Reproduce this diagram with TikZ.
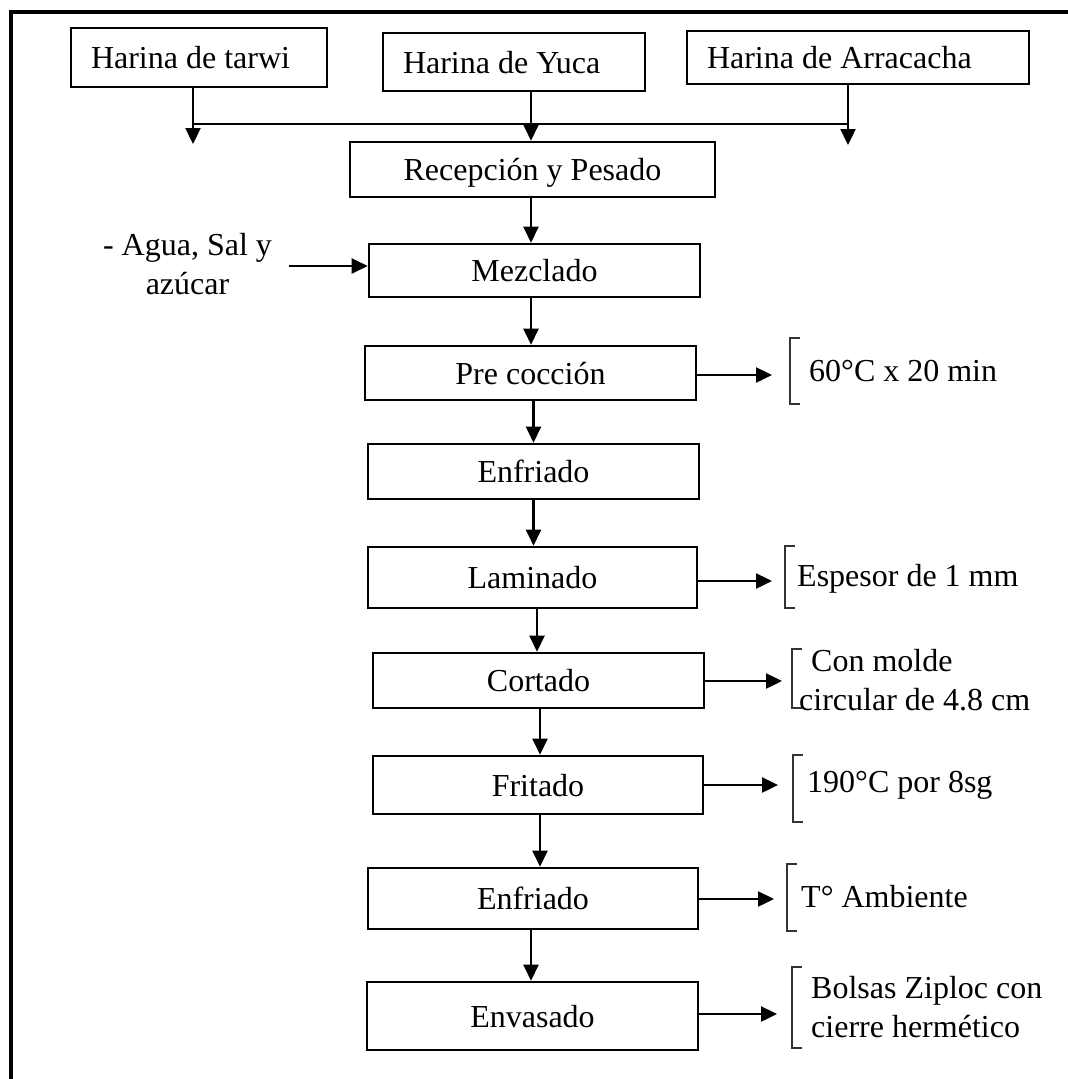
\documentclass[tikz,border=0pt]{standalone}
\usepackage{fontspec}
\setmainfont{Liberation Serif}
\usetikzlibrary{arrows.meta}
\begin{document}
\begin{tikzpicture}[x=1pt,y=-1pt,
  every node/.style={font=\fontsize{32}{39}\selectfont},
  topbox/.style={draw, line width=1.4pt, inner ysep=0pt, inner xsep=20pt, text height=24pt, text depth=2pt},
  mainbox/.style={draw, line width=2.6pt, inner sep=0pt, minimum width=331pt, text height=24pt, text depth=2pt},
  arr/.style={line width=2.4pt, -{Triangle[width=15pt,length=16pt]}},
  thinln/.style={line width=1.5pt},
  brk/.style={line width=1.1pt, draw=black!80},
  note/.style={inner sep=0pt, anchor=base west}]
\useasboundingbox (0,0) rectangle (1068,1079);
\fill[white] (0,0) rectangle (1068,1079);
% frame
\draw[line width=3.5pt] (11,1079) -- (11,12) -- (1068,12);

% top boxes
\node[topbox, minimum height=59pt] (tarwi) at (199,57.5) {\makebox[216pt][l]{Harina de tarwi}};
\node[topbox, minimum height=58pt] (yuca) at (514,62) {\makebox[222pt][l]{Harina de Yuca}};
\node[topbox, minimum height=53pt] (arra) at (858,57.5) {\makebox[302pt][l]{Harina de Arracacha}};

% main boxes
\node[mainbox, minimum width=365pt, minimum height=55pt] (rec) at (532.5,169.5) {Recepción y Pesado};
\node[mainbox, minimum height=53pt] (mez) at (534.5,270.5) {Mezclado};
\node[mainbox, minimum height=54pt] (pre) at (530.5,373) {Pre cocción};
\node[mainbox, minimum height=55pt] (enf1) at (533.5,471.5) {Enfriado};
\node[mainbox, minimum width=329pt, minimum height=61pt] (lam) at (532.5,577.5) {Laminado};
\node[mainbox, minimum height=55pt] (cor) at (538.5,680.5) {Cortado};
\node[mainbox, minimum width=330pt, minimum height=58pt] (fri) at (538,785) {Fritado};
\node[mainbox, minimum width=330pt, minimum height=61pt] (enf2) at (533,898.5) {Enfriado};
\node[mainbox, minimum height=68pt] (env) at (532.5,1016) {Envasado};

% top connectors
\coordinate (ta) at (193,144);
\coordinate (tc) at (848,145);
\coordinate (hl) at (0,124);
\draw[arr] (tarwi.south -| ta) -- (ta);
\draw[arr] (arra.south -| tc) -- (tc);
\draw[thinln] (ta |- hl) -- (tc |- hl);
\draw[arr] (yuca.south -| rec.north) ++(-1.5,0) coordinate (ya) -- (ya |- rec.north);

% main flow
\draw[arr] (rec.south) ++(-1.5,0) coordinate (r1) -- (r1 |- mez.north);
\draw[arr] (r1 |- mez.south) -- (r1 |- pre.north);
\draw[arr] (pre.south -| enf1.north) -- (enf1.north);
\draw[arr] (enf1.south) -- (enf1.south |- lam.north);
\draw[arr] (cor.north |- lam.south) ++(-1.5,0) coordinate (l1) -- (l1 |- cor.north);
\draw[arr] (cor.south) ++(1.5,0) coordinate (c1) -- (c1 |- fri.north);
\draw[arr] (c1 |- fri.south) -- (c1 |- enf2.north);
\draw[arr] (enf2.south) ++(-2,0) coordinate (e1) -- (e1 |- env.north);

% inputs
\node[align=center, inner sep=0pt] (agua) at (187.5,264) {- Agua, Sal y\\azúcar};
\coordinate (aguaa) at (289,266);
\draw[arr] (aguaa) -- (aguaa -| mez.west);

% side notes
\coordinate (pa) at (772,375);
\draw[arr] (pre.east |- pa) -- (pa);
\draw[brk] (800,338) -- (790,338) -- (790,404) -- (800,404);
\node[note] (pren) at (809,381) {60°C x 20 min};

\coordinate (la) at (772,581);
\draw[arr] (lam.east |- la) -- (la);
\draw[brk] (795,546) -- (785,546) -- (785,608) -- (795,608);
\node[note] (lamn) at (797,586) {Espesor de 1 mm};

\coordinate (ca) at (782,681);
\draw[arr] (cor.east |- ca) -- (ca);
\draw[brk] (802,649) -- (792,649) -- (792,708) -- (802,708);
\node[inner sep=0pt, anchor=west, align=left] (corn) at (799,680) {\hspace*{12pt}Con molde\\circular de 4.8 cm};

\coordinate (fa) at (778,785);
\draw[arr] (fri.east |- fa) -- (fa);
\draw[brk] (803,755) -- (793,755) -- (793,822) -- (803,822);
\node[note] (frin) at (807,792) {190°C por 8sg};

\coordinate (ea) at (774,899);
\draw[arr] (enf2.east |- ea) -- (ea);
\draw[brk] (797,864) -- (787,864) -- (787,931) -- (797,931);
\node[note] (enfn) at (801,907) {T° Ambiente};

\coordinate (va) at (777,1014);
\draw[arr] (env.east |- va) -- (va);
\draw[brk] (802,967) -- (792,967) -- (792,1048) -- (802,1048);
\node[inner sep=0pt, anchor=west, align=left] (envn) at (811,1007) {Bolsas Ziploc con\\cierre hermético};
\end{tikzpicture}
\end{document}
